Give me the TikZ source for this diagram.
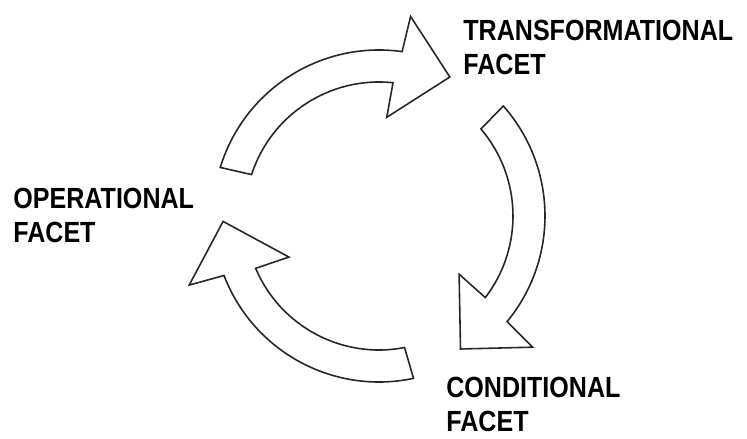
\documentclass[tikz,border=0pt]{standalone}
\usepackage{fontspec}
\newfontfamily\facetfont[FakeStretch=0.86]{Liberation Sans}
\usepackage{tikz}
\usetikzlibrary{positioning}

\begin{document}
\begin{tikzpicture}[
  x=0.02cm, y=0.02cm,
  facet/.style={anchor=north west, inner sep=0pt, align=left,
    font=\facetfont\bfseries\fontsize{16.6pt}{19.3pt}\selectfont},
  cyclearrow/.style={draw=black!85, line width=0.9pt, fill=white, line join=miter},
]
  \useasboundingbox (0,0) rectangle (747,439);
  \coordinate (hub) at (379,223);

  % labels
  \node[facet] (trans) at (463,419) {TRANSFORMATIONAL\\FACET};
  \node[facet] (oper)  at (13,251)  {OPERATIONAL\\FACET};
  \node[facet] (cond)  at (446,62)  {CONDITIONAL\\FACET};

  % three curved block arrows round the hub
  \begin{scope}[shift={(hub)}]
    \foreach \a in {163,41.5,-78} {
      \draw[cyclearrow] (\a:166)
        arc[start angle=\a, end angle=\a-81, radius=166]
        -- (\a-82:202) -- (\a-100:156) -- (\a-77.5:99) -- (\a-79:134)
        arc[start angle=\a-79, end angle=\a-1, radius=134] -- cycle;
    }
  \end{scope}
\end{tikzpicture}
\end{document}
